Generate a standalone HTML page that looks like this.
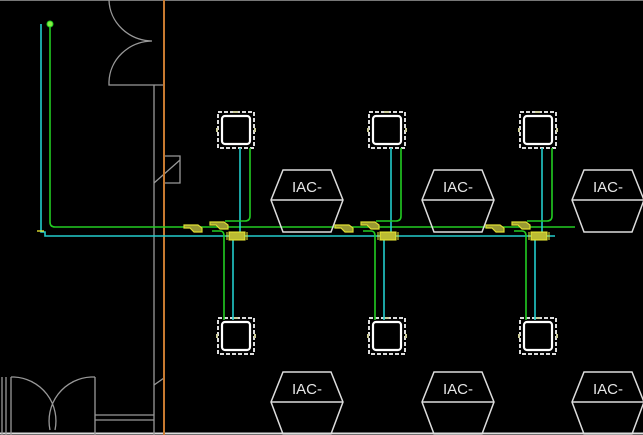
<!DOCTYPE html>
<html><head><meta charset="utf-8"><style>
html,body{margin:0;padding:0;background:#000;width:643px;height:435px;overflow:hidden}
svg{display:block}
text{font-family:"Liberation Sans",sans-serif;font-size:15px;fill:#e6e6e6}
</style></head><body>
<svg width="643" height="435" viewBox="0 0 643 435">
<defs>
<g id="box">
<rect x="0" y="0" width="36" height="36" fill="none" stroke="#ddd" stroke-width="2" stroke-dasharray="4,2"/>
<rect x="4" y="4" width="28" height="28" rx="3" fill="none" stroke="#fff" stroke-width="2.2"/>
<rect x="15" y="-1" width="5" height="2" fill="#cc9"/>
<rect x="-2" y="16" width="2" height="4" fill="#cc9"/>
<rect x="36" y="16" width="2" height="4" fill="#cc9"/>
</g>
<g id="hex">
<polygon points="12,0 60,0 72,30 60,62 12,62 0,30" fill="none" stroke="#ddd" stroke-width="1.5"/>
<line x1="0" y1="30" x2="72" y2="30" stroke="#ddd" stroke-width="1.5"/>
<text x="36" y="22" text-anchor="middle">IAC-</text>
</g>
<g id="fit">
<path d="M0,0 h14 l4,3 v4 h-8 l-4,-4 h-6z" fill="#993" stroke="#dd3" stroke-width="1.2"/>
</g>
<g id="valve">
<rect x="-8" y="-4" width="16" height="8" fill="#bb3" stroke="#ee3" stroke-width="1"/>
<line x1="-10" y1="-4" x2="-10" y2="4" stroke="#ee3"/><line x1="10" y1="-4" x2="10" y2="4" stroke="#ee3"/>
</g>
</defs>
<line x1="0" y1="0.5" x2="643" y2="0.5" stroke="#777"/>
<line x1="0" y1="433.5" x2="643" y2="433.5" stroke="#ddd" stroke-width="2"/>
<g stroke="#999" stroke-width="1.3" fill="none">
<path d="M109,0 A44,42 0 0 0 152,41 A44,42 0 0 0 109,82 V85 H164"/>
<line x1="154" y1="85" x2="154" y2="435"/>
<path d="M164,156 H180 V183 H164 M154,183 L180,160"/>
<path d="M2,377 V435 M6,377 V435 M11,377 V435 M11,377 H14 A44,44 0 0 1 55,430 M95,377 V435 M91,377 A44,44 0 0 0 50,430 M95,415 H154 M95,420 H154 M95,377 H91"/>
<path d="M154,385 L164,378"/>
</g>
<line x1="164" y1="0" x2="164" y2="435" stroke="#c87a30" stroke-width="2"/>
<path d="M41,24 V232 H45 V236 H555" stroke="#2cc" stroke-width="1.6" fill="none"/>
<path d="M50,24 V222 Q50,227 55,227 H575" stroke="#2c2" stroke-width="1.6" fill="none"/>
<circle cx="50" cy="24" r="3" fill="#8e4" stroke="#2c2"/>
<g id="grp">
<use href="#box" x="218" y="112"/>
<use href="#box" x="218" y="318"/>
<path d="M240,148 V236" stroke="#2cc" stroke-width="1.6" fill="none"/>
<path d="M250,148 V216 Q250,221 245,221 H225" stroke="#2c2" stroke-width="1.6" fill="none"/>
<path d="M212,231 H220 Q224,231 224,236 V320" stroke="#2c2" stroke-width="1.6" fill="none"/>
<path d="M233,236 V320" stroke="#2cc" stroke-width="1.6" fill="none"/>
<use href="#fit" x="184" y="225"/>
<use href="#fit" x="210" y="222" />
<use href="#valve" x="237" y="236"/>
</g>
<use href="#grp" x="151"/>
<use href="#grp" x="302"/>
<use href="#hex" x="271" y="170"/>
<use href="#hex" x="422" y="170"/>
<use href="#hex" x="572" y="170"/>
<use href="#hex" x="271" y="372"/>
<use href="#hex" x="422" y="372"/>
<use href="#hex" x="572" y="372"/>
<path d="M37,231 H44" stroke="#ee3" stroke-width="1.3"/>
</svg>
</body></html>
